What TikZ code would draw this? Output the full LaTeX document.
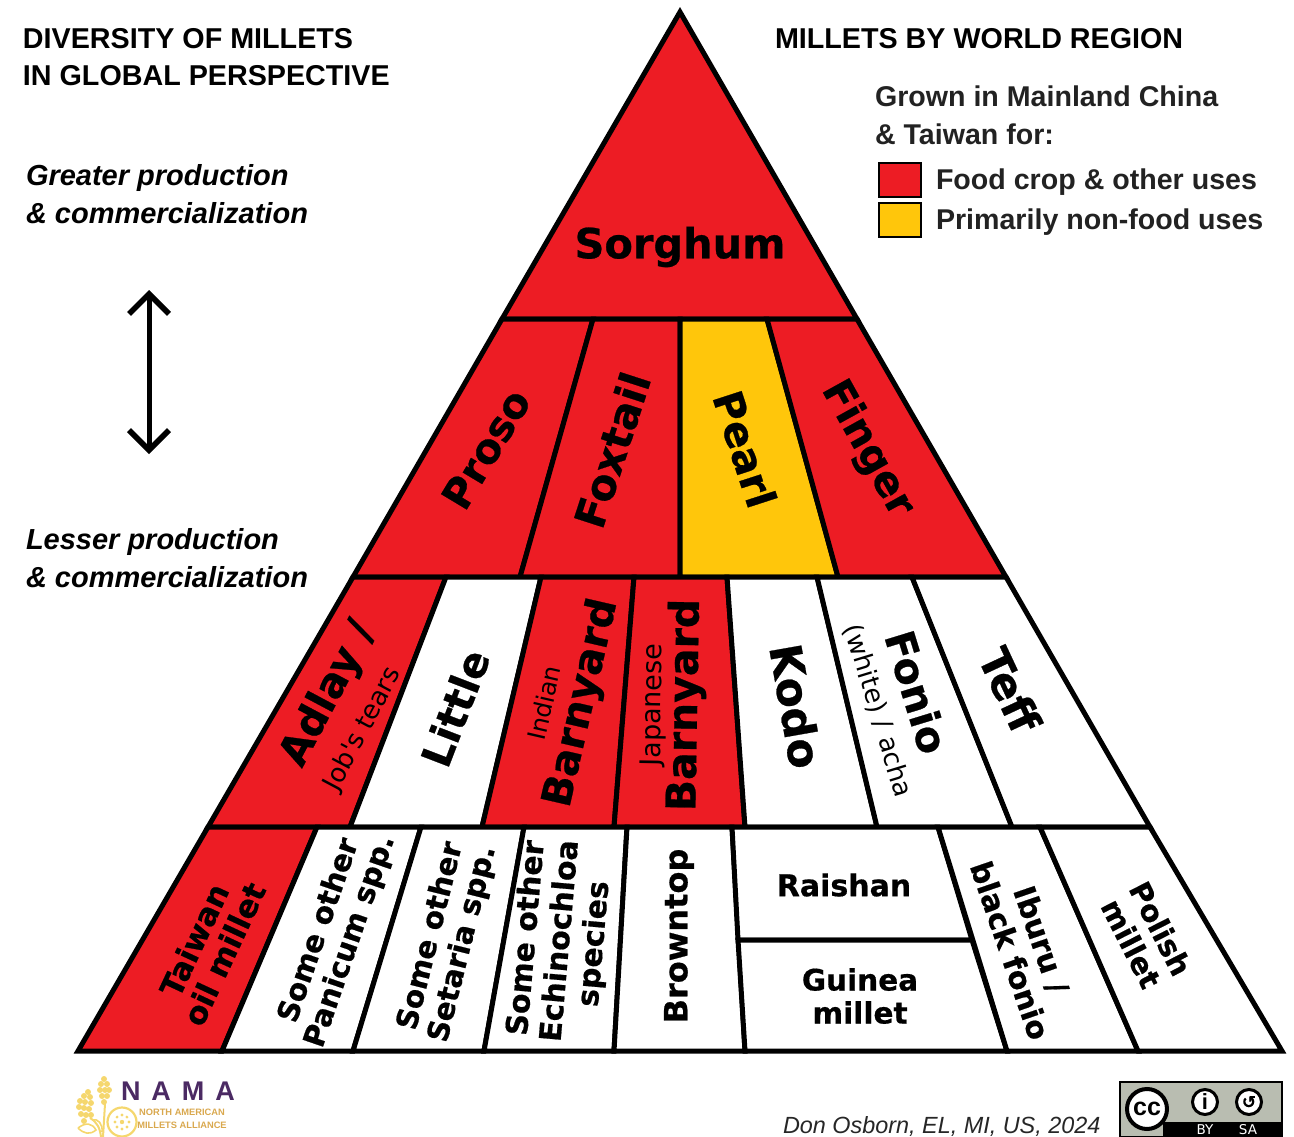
\documentclass[tikz,border=0pt]{standalone}
\usepackage{fontspec}
\setmainfont{Liberation Sans}
\newfontfamily\dvj[BoldFeatures={FakeBold=0.6}]{DejaVu Sans}
\usetikzlibrary{arrows.meta}
\definecolor{milletred}{HTML}{ED1C24}
\definecolor{milletgold}{HTML}{FFC60B}
\definecolor{namapurple}{HTML}{4B2A63}
\definecolor{namagold}{HTML}{F5D76E}
\definecolor{namatext}{HTML}{D9A84E}
\definecolor{ccgrey}{HTML}{B9BDB1}
\definecolor{legendtext}{HTML}{222222}
\newcommand{\fsz}[1]{\fontsize{#1}{#1}\selectfont}
\tikzset{
  x=1pt,y=-1pt,
  cell/.style={line width=5pt,draw=black,line join=miter},
  redcell/.style={fill=milletred},
  goldcell/.style={fill=milletgold},
  whitecell/.style={fill=white},
  txt/.style={inner sep=0pt,outer sep=0pt,align=left,anchor=west},
  head/.style={txt,font=\bfseries\fsz{28.7},text=black},
  sub/.style={txt,font=\bfseries\itshape\fsz{29},text=black},
  legend/.style={txt,font=\bfseries\fsz{28.6},text=legendtext},
  bigl/.style={inner sep=0pt,align=center,font=\dvj\bfseries\fsz{41}},
  smalll/.style={inner sep=0pt,align=center,font=\dvj\bfseries\fsz{30},execute at begin node={\baselineskip=33pt}},
  tinyl/.style={inner sep=0pt,align=center,font=\dvj\fsz{26}},
  swatch/.style={draw=black,line width=1.5pt,minimum width=42pt,minimum height=34pt,inner sep=0pt},
}
\begin{document}
\begin{tikzpicture}
\useasboundingbox (0,0) rectangle (1294,1137);
% tier 1
\draw[cell,redcell] (680,12) -- (857,319) -- (502,319) -- cycle;
% tier 2
\draw[cell,redcell] (502,319) -- (593,319) -- (520,577) -- (353,577) -- cycle;
\draw[cell,redcell] (593,319) -- (680,319) -- (680,577) -- (520,577) -- cycle;
\draw[cell,goldcell] (680,319) -- (767,319) -- (838,577) -- (680,577) -- cycle;
\draw[cell,redcell] (767,319) -- (857,319) -- (1006,577) -- (838,577) -- cycle;
% tier 3
\draw[cell,redcell] (353,577) -- (446,577) -- (350,827) -- (208,827) -- cycle;
\draw[cell,whitecell] (446,577) -- (541,577) -- (482,827) -- (350,827) -- cycle;
\draw[cell,redcell] (541,577) -- (634,577) -- (614,827) -- (482,827) -- cycle;
\draw[cell,redcell] (634,577) -- (727,577) -- (745,827) -- (614,827) -- cycle;
\draw[cell,whitecell] (727,577) -- (817,577) -- (877,827) -- (745,827) -- cycle;
\draw[cell,whitecell] (817,577) -- (912,577) -- (1012,827) -- (877,827) -- cycle;
\draw[cell,whitecell] (912,577) -- (1006,577) -- (1150,827) -- (1012,827) -- cycle;
% tier 4
\draw[cell,redcell] (208,827) -- (317,827) -- (222,1051) -- (78,1051) -- cycle;
\draw[cell,whitecell] (317,827) -- (421,827) -- (353,1051) -- (222,1051) -- cycle;
\draw[cell,whitecell] (421,827) -- (524,827) -- (484,1051) -- (353,1051) -- cycle;
\draw[cell,whitecell] (524,827) -- (627,827) -- (614,1051) -- (484,1051) -- cycle;
\draw[cell,whitecell] (627,827) -- (732,827) -- (745,1051) -- (614,1051) -- cycle;
\draw[cell,whitecell] (732,827) -- (938,827) -- (972,940) -- (738,940) -- cycle;
\draw[cell,whitecell] (738,940) -- (972,940) -- (1007,1051) -- (745,1051) -- cycle;
\draw[cell,whitecell] (938,827) -- (1040,827) -- (1138,1051) -- (1007,1051) -- cycle;
\draw[cell,whitecell] (1040,827) -- (1150,827) -- (1282,1051) -- (1138,1051) -- cycle;

% headings
\node[head,align=left] (titleL) at (23,57) {DIVERSITY OF MILLETS\\[9pt]IN GLOBAL PERSPECTIVE};
\node[head] (titleR) at (775,39) {MILLETS BY WORLD REGION};
\node[sub] (greater) at (26,194) {Greater production\\[9pt]\& commercialization};
\node[sub] (lesser) at (26,558) {Lesser production\\[9pt]\& commercialization};
\node[legend] (grown) at (875,115) {Grown in Mainland China\\[9pt]\& Taiwan for:};
\node[swatch,fill=milletred] (swatchRed) at (900,180) {};
\node[swatch,fill=milletgold] (swatchGold) at (900,220) {};
\node[legend] (lgFood) at (936,182) {Food crop \& other uses};
\node[legend] (lgNon) at (936,222) {Primarily non-food uses};

% double arrow
\coordinate (arrTop) at (149,290);
\coordinate (arrBot) at (149,454);
\draw[line width=5pt,{Straight Barb[length=20pt,width=40pt,line width=5.5pt]}-{Straight Barb[length=20pt,width=40pt,line width=5.5pt]}] (arrTop) -- (arrBot);

% tier labels
\node[bigl,font=\dvj\bfseries\fsz{41.5}] (sorghum) at (680,247) {Sorghum};
\node[bigl,rotate=59] (proso) at (486,449) {Proso};
\node[bigl,font=\dvj\bfseries\fsz{42},rotate=72] (foxtail) at (612,450) {Foxtail};
\node[bigl,rotate=-72] (pearl) at (745,449) {Pearl};
\node[bigl,rotate=-61] (finger) at (867,449) {Finger};

\node[bigl,rotate=62] (adlay) at (329,694) {Adlay /};
\node[tinyl,rotate=62] (jobs) at (363,729) {Job's tears};
\node[bigl,font=\dvj\bfseries\fsz{41},rotate=69] (little) at (455,708) {Little};
\node[bigl,rotate=77] (barnA) at (582,703) {Barnyard};
\node[tinyl,font=\dvj\fsz{24.5},rotate=77] (indian) at (544,703) {Indian};
\node[bigl,font=\dvj\bfseries\fsz{41},rotate=89] (barnB) at (686,705) {Barnyard};
\node[tinyl,font=\dvj\fsz{27},rotate=89] (japanese) at (654,705) {Japanese};
\node[bigl,font=\dvj\bfseries\fsz{44},rotate=-80] (kodo) at (796,706) {Kodo};
\node[bigl,rotate=-73] (fonio) at (917,692) {Fonio};
\node[tinyl,font=\dvj\fsz{26},rotate=-73] (acha) at (878,711) {(white) / acha};
\node[bigl,font=\dvj\bfseries\fsz{43},rotate=-65] (teff) at (1010,690) {Teff};

\node[smalll,font=\dvj\bfseries\fsz{31},rotate=65] (taiwan) at (209,947) {Taiwan\\oil millet};
\node[smalll,font=\dvj\bfseries\fsz{29.5},rotate=71] (panicum) at (335,936) {Some other\\Panicum spp.};
\node[smalll,font=\dvj\bfseries\fsz{29.5},rotate=76] (setaria) at (447,940) {Some other\\Setaria spp.};
\node[smalll,font=\dvj\bfseries\fsz{30},rotate=85,execute at begin node={\baselineskip=34pt}] (echino) at (561,941) {Some other\\Echinochloa\\species};
\node[smalll,font=\dvj\bfseries\fsz{32},rotate=90] (browntop) at (679,936) {Browntop};
\node[smalll] (raishan) at (844,885) {Raishan};
\node[smalll,font=\dvj\bfseries\fsz{29.5}] (guinea) at (860,996) {Guinea\\millet};
\node[smalll,rotate=-71] (iburu) at (1026,945) {Iburu /\\black fonio};
\node[smalll,font=\dvj\bfseries\fsz{29.5},rotate=-63] (polish) at (1146,936) {Polish\\millet};

% credit
\node[txt,font=\itshape\fsz{23.4},text=black!85] (credit) at (783,1127) {Don Osborn, EL, MI, US, 2024};

% NAMA logo
\node[inner sep=0pt,font=\bfseries\fsz{27},text=namapurple] (nama) at (178,1091) {N\hspace{11pt}A\hspace{11pt}M\hspace{11pt}A};
\node[inner sep=0pt,font=\bfseries\fsz{9.3},text=namatext] (nama1) at (182,1112) {NORTH AMERICAN};
\node[inner sep=0pt,font=\bfseries\fsz{9.3},text=namatext] (nama2) at (182,1125) {MILLETS ALLIANCE};
\foreach \cx/\cy in {104/1079, 101/1084, 107/1084, 100/1090, 105/1090, 109/1090, 102/1096, 107/1096, 104/1102,
  88/1092, 84/1096, 90/1097, 80/1101, 85/1102, 91/1103, 79/1107, 84/1108, 89/1109, 81/1114, 86/1115, 91/1115, 84/1121}
  \fill[namagold] (\cx,\cy) circle[radius=3pt];
\draw[namagold,line width=2pt] (105,1104) -- (103,1137);
\draw[namagold,line width=2pt] (90,1118) .. controls (97,1122) and (100,1128) .. (101,1137);
\draw[namagold,line width=1.6pt] (78,1128) .. controls (86,1122) and (92,1123) .. (96,1130) .. controls (90,1135) and (84,1134) .. (78,1128);
\draw[namagold,line width=1.6pt] (92,1120) .. controls (98,1118) and (103,1124) .. (102,1132);
\draw[namagold,line width=2.2pt] (122,1122) circle[radius=14.5pt];
\foreach \ca in {0,45,...,315}
  \fill[namagold] (122,1122) ++(\ca:7pt) circle[radius=1.6pt];
\fill[namagold] (122,1122) circle[radius=2.2pt];

% CC badge
\fill[ccgrey] (1120,1082) rectangle (1282,1137);
\fill[black] (1163,1122) rectangle (1282,1137);
\draw[black,line width=1.5pt] (1120,1082) rectangle (1282,1137);
\node[circle,draw=black,fill=white,line width=4pt,minimum size=40pt,inner sep=0pt] (ccm) at (1147,1109) {};
\node[inner sep=0pt,font=\bfseries\fsz{25}] (cct) at (1147,1109) {cc};
\node[circle,draw=black,fill=white,line width=3pt,minimum size=25pt,inner sep=0pt,font=\bfseries\fsz{22}] (by) at (1205,1102) {i};
\node[circle,draw=black,fill=white,line width=3pt,minimum size=25pt,inner sep=0pt,font=\dvj\bfseries\fsz{17}] (sa) at (1249,1102) {↺};
\node[inner sep=0pt,text=white,font=\dvj\fsz{13.5}] (byt) at (1205,1130) {BY};
\node[inner sep=0pt,text=white,font=\dvj\fsz{13.5}] (sat) at (1248,1130) {SA};
\end{tikzpicture}
\end{document}
